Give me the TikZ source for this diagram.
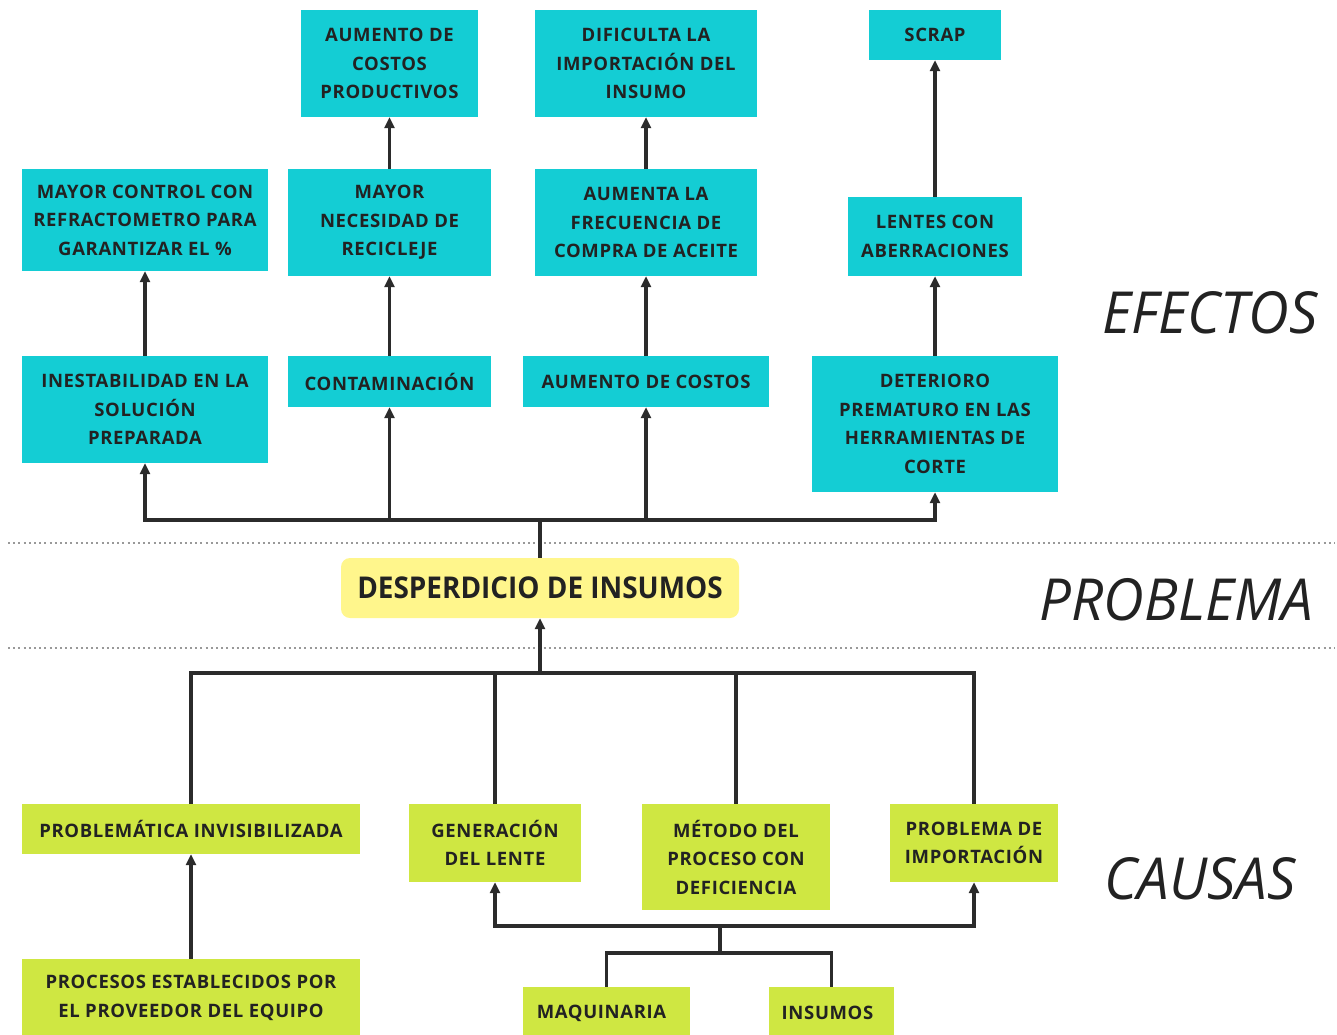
\documentclass[tikz,border=0pt]{standalone}
\usepackage{fontspec}
\setmainfont{Open Sans}[LetterSpace=3.5]
\newfontfamily\condfont{Open Sans}[FakeStretch=0.93]
\newfontfamily\labfont{Open Sans}[FakeStretch=0.97]
\usetikzlibrary{arrows.meta}
\definecolor{cyanbox}{HTML}{14CDD4}
\definecolor{greenbox}{HTML}{CFE742}
\definecolor{yellowbox}{HTML}{FFF68C}
\definecolor{ink}{HTML}{222222}
\definecolor{lineink}{HTML}{2B2B2B}
\begin{document}
\begin{tikzpicture}[x=1pt,y=-1pt,
  base/.style={inner sep=0pt, align=center, text=ink, font=\fontsize{18.5}{28.5}\selectfont\bfseries},
  ebox/.style={base, fill=cyanbox},
  cbox/.style={base, fill=greenbox},
  conn/.style={draw=lineink, line width=3.3pt},
  arr/.style={conn, -{Triangle[length=11pt,width=10pt]}},
  sep/.style={draw=gray!80, line width=2.2pt, dash pattern=on 2pt off 3.2pt},
  side/.style={inner sep=0pt, text=ink, font=\labfont\itshape\fontsize{58}{60}\selectfont}
]
\useasboundingbox (0,0) rectangle (1337,1034);
\clip (0,0) rectangle (1337,1034);
% effects
\node[ebox, minimum width=177pt, minimum height=107pt] (acp) at (389.5,63.5) {AUMENTO DE\\COSTOS\\PRODUCTIVOS};
\node[ebox, minimum width=222pt, minimum height=107pt] (dif) at (646,63.5) {DIFICULTA LA\\IMPORTACIÓN DEL\\INSUMO};
\node[ebox, minimum width=132pt, minimum height=50pt] (scr) at (935,35) {SCRAP};
\node[ebox, minimum width=246pt, minimum height=102pt] (mcc) at (145,220) {MAYOR CONTROL CON\\REFRACTOMETRO PARA\\GARANTIZAR EL \%};
\node[ebox, minimum width=203pt, minimum height=107pt] (mnr) at (389.5,222.5) {MAYOR\\NECESIDAD DE\\RECICLEJE};
\node[ebox, minimum width=222pt, minimum height=107pt] (afc) at (646,222.5) {AUMENTA LA\\FRECUENCIA DE\\COMPRA DE ACEITE};
\node[ebox, minimum width=174pt, minimum height=79pt] (lca) at (935,236.5) {LENTES CON\\ABERRACIONES};
\node[ebox, minimum width=246pt, minimum height=107pt] (ine) at (145,409.5) {INESTABILIDAD EN LA\\SOLUCIÓN\\PREPARADA};
\node[ebox, minimum width=203pt, minimum height=51pt] (con) at (389.5,381.5) {CONTAMINACIÓN};
\node[ebox, minimum width=246pt, minimum height=51pt] (adc) at (646,381.5) {AUMENTO DE COSTOS};
\node[ebox, minimum width=246pt, minimum height=136pt] (det) at (935,424) {DETERIORO\\PREMATURO EN LAS\\HERRAMIENTAS DE\\CORTE};
% problem
\node[fill=yellowbox, rounded corners=9pt, minimum width=398pt, minimum height=60pt, inner sep=0pt, text=ink, font=\condfont\bfseries\fontsize{30}{32}\selectfont] (prob) at (540,588) {DESPERDICIO DE INSUMOS};
% causes
\node[cbox, minimum width=338pt, minimum height=50pt] (pi) at (191,829) {PROBLEMÁTICA INVISIBILIZADA};
\node[cbox, minimum width=172pt, minimum height=78pt] (gl) at (495,843) {GENERACIÓN\\DEL LENTE};
\node[cbox, minimum width=188pt, minimum height=106pt] (mp) at (736,857) {MÉTODO DEL\\PROCESO CON\\DEFICIENCIA};
\node[cbox, minimum width=168pt, minimum height=78pt] (pim) at (974,843) {PROBLEMA DE\\IMPORTACIÓN};
\node[cbox, minimum width=338pt, minimum height=78pt] (pep) at (191,998) {PROCESOS ESTABLECIDOS POR\\EL PROVEEDOR DEL EQUIPO};
\node[cbox, minimum width=167pt, minimum height=52pt] (maq) at (606.5,1013) {MAQUINARIA\hspace{10pt}};
\node[cbox, minimum width=125pt, minimum height=52pt] (ins) at (831.5,1013) {INSUMOS\hspace{8pt}};
% side labels
\node[side, anchor=east] (lef) at (1318,313) {EFECTOS};
\node[side, anchor=east] (lpr) at (1313,600) {PROBLEMA};
\node[side, anchor=east] (lca2) at (1296,879) {CAUSAS};
% separators
\draw[sep] (8,543) -- (1335,543);
\draw[sep] (8,648) -- (1335,648);
% effect connectors
\coordinate (eb) at (540,520);
\draw[conn] (prob.north) -- (eb);
\draw[arr] (eb) -| (ine.south);
\draw[arr] (eb) -| (con.south);
\draw[arr] (eb) -| (adc.south);
\draw[arr] (eb) -| (det.south);
\draw[arr] (ine.north) -- (mcc.south);
\draw[arr] (con.north) -- (mnr.south);
\draw[arr] (mnr.north) -- (acp.south);
\draw[arr] (adc.north) -- (afc.south);
\draw[arr] (afc.north) -- (dif.south);
\draw[arr] (det.north) -- (lca.south);
\draw[arr] (lca.north) -- (scr.south);
% cause connectors
\coordinate (cb) at (540,673);
\draw[arr] (cb) -- (prob.south);
\draw[conn] (cb) -| (pi.north);
\draw[conn] (cb) -| (gl.north);
\draw[conn] (cb) -| (mp.north);
\draw[conn] (cb) -| (pim.north);
\draw[arr] (pep.north) -- (pi.south);
\coordinate (lb) at (720,926);
\coordinate (mb) at (720,953);
\draw[arr] (lb) -| (gl.south);
\draw[arr] (lb) -| (pim.south);
\draw[conn] (lb) -- (mb);
\draw[conn] (mb) -| (maq.north);
\draw[conn] (mb) -| (ins.north);
\end{tikzpicture}
\end{document}
